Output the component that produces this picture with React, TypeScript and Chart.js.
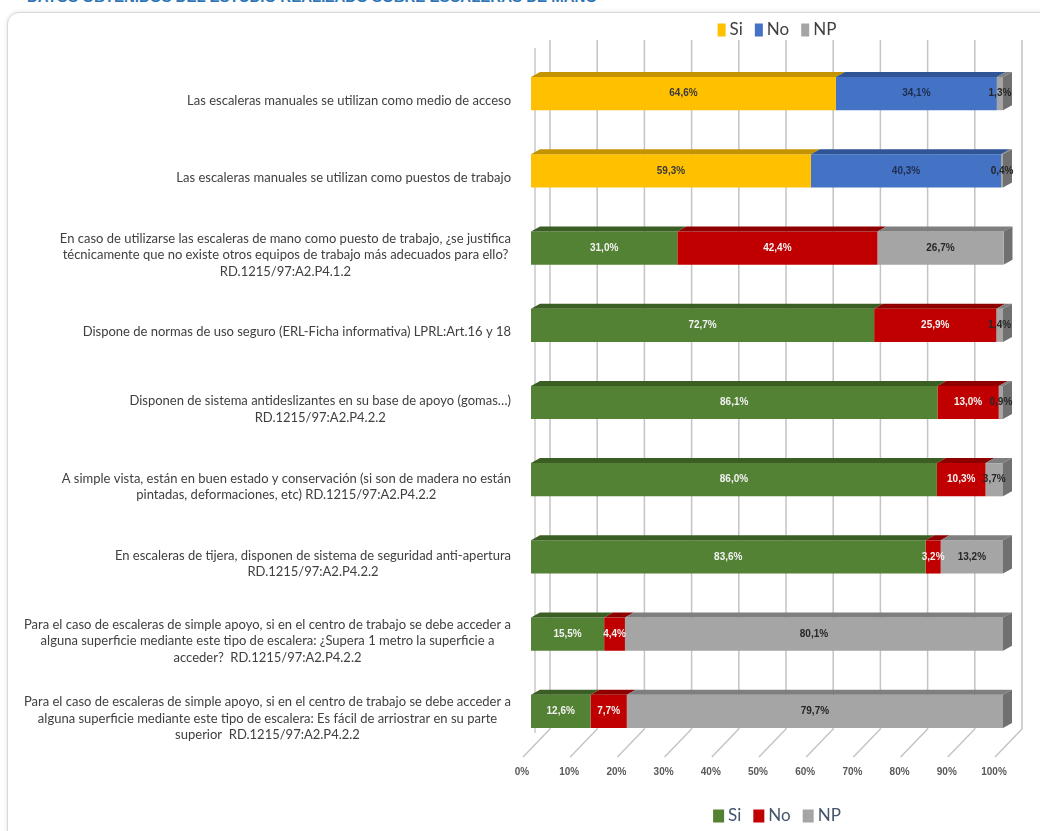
import React, { useEffect, useRef } from "react";
import { Chart, registerables } from "chart.js";
Chart.register(...registerables);

const categories: string[][] = [
  ["Las escaleras manuales se utilizan como medio de acceso"],
  ["Las escaleras manuales se utilizan como puestos de trabajo"],
  [
    "En caso de utilizarse las escaleras de mano como puesto de trabajo, ¿se justifica",
    "técnicamente que no existe otros equipos de trabajo más adecuados para ello?",
    "RD.1215/97:A2.P4.1.2",
  ],
  ["Dispone de normas de uso seguro (ERL-Ficha informativa) LPRL:Art.16 y 18"],
  ["Disponen de sistema antideslizantes en su base de apoyo (gomas…)", "RD.1215/97:A2.P4.2.2"],
  [
    "A simple vista, están en buen estado y conservación (si son de madera no están",
    "pintadas, deformaciones, etc) RD.1215/97:A2.P4.2.2",
  ],
  ["En escaleras de tijera, disponen de sistema de seguridad anti-apertura", "RD.1215/97:A2.P4.2.2"],
  [
    "Para el caso de escaleras de simple apoyo, si en el centro de trabajo se debe acceder a",
    "alguna superficie mediante este tipo de escalera: ¿Supera 1 metro la superficie a",
    "acceder?  RD.1215/97:A2.P4.2.2",
  ],
  [
    "Para el caso de escaleras de simple apoyo, si en el centro de trabajo se debe acceder a",
    "alguna superficie mediante este tipo de escalera: Es fácil de arriostrar en su parte",
    "superior  RD.1215/97:A2.P4.2.2",
  ],
];

// Group A (first two questions): Si / No / NP
const siA = [64.6, 59.3, null, null, null, null, null, null, null];
const noA = [34.1, 40.3, null, null, null, null, null, null, null];
const npA = [1.3, 0.4, null, null, null, null, null, null, null];
// Group B (remaining questions): Si / No / NP
const siB = [null, null, 31.0, 72.7, 86.1, 86.0, 83.6, 15.5, 12.6];
const noB = [null, null, 42.4, 25.9, 13.0, 10.3, 3.2, 4.4, 7.7];
const npB = [null, null, 26.7, 1.4, 0.9, 3.7, 13.2, 80.1, 79.7];

const seriesNames = ["Si", "No", "NP", "Si", "No", "NP"];
const frontColors = ["#FFC000", "#4472C4", "#A5A5A5", "#548235", "#C00000", "#A5A5A5"];
const topColors = ["#C49300", "#2F5597", "#7F7F7F", "#3B5E25", "#8E0000", "#7F7F7F"];
const sideColor = "#707070";
const labelColors = ["#3a3a3a", "#1f2d4f", "#262626", "#f2f2f2", "#f2f2f2", "#262626"];

const DX = 9;
const DY = 5;

const gridPlugin = {
  id: "grid3d",
  beforeDatasetsDraw(chart: any) {
    const ctx = chart.ctx;
    const xs = chart.scales.x;
    const { top, bottom } = chart.chartArea;
    const gridTop = top - 15;
    const floorBack = bottom - 21;
    const floorFront = bottom + 7;
    ctx.save();
    ctx.strokeStyle = "#c4c4c4";
    ctx.lineWidth = 1.5;
    for (let v = 0; v <= 100; v += 10) {
      const x = xs.getPixelForValue(v);
      ctx.beginPath();
      ctx.moveTo(x + 19, gridTop);
      ctx.lineTo(x + 19, floorBack);
      ctx.lineTo(x - 8, floorFront);
      ctx.stroke();
    }
    // left wall edge
    const x0 = xs.getPixelForValue(0);
    ctx.strokeStyle = "#d6d6d6";
    ctx.lineWidth = 2;
    ctx.beginPath();
    ctx.moveTo(x0 + 4, gridTop + 8);
    ctx.lineTo(x0 + 4, floorBack + 4);
    ctx.stroke();
    ctx.restore();
  },
};

const facePlugin = {
  id: "faces3d",
  afterDatasetsDraw(chart: any) {
    const ctx = chart.ctx;
    const n = chart.data.labels.length;
    const lastIdx: number[] = new Array(n).fill(-1);
    chart.data.datasets.forEach((ds: any, di: number) => {
      ds.data.forEach((v: any, i: number) => {
        if (v !== null && v !== undefined) lastIdx[i] = di;
      });
    });
    ctx.save();
    chart.data.datasets.forEach((ds: any, di: number) => {
      const meta = chart.getDatasetMeta(di);
      meta.data.forEach((el: any, i: number) => {
        const v = ds.data[i];
        if (v === null || v === undefined) return;
        const p = el.getProps(["x", "y", "base", "height"], true);
        const x0 = Math.min(p.base, p.x);
        const x1 = Math.max(p.base, p.x);
        const t = p.y - p.height / 2;
        const b = p.y + p.height / 2;
        ctx.fillStyle = topColors[di];
        ctx.beginPath();
        ctx.moveTo(x0, t);
        ctx.lineTo(x1, t);
        ctx.lineTo(x1 + DX, t - DY);
        ctx.lineTo(x0 + DX, t - DY);
        ctx.closePath();
        ctx.fill();
        if (lastIdx[i] === di) {
          ctx.fillStyle = sideColor;
          ctx.beginPath();
          ctx.moveTo(x1, t);
          ctx.lineTo(x1 + DX, t - DY);
          ctx.lineTo(x1 + DX, b - DY);
          ctx.lineTo(x1, b);
          ctx.closePath();
          ctx.fill();
        }
      });
    });
    ctx.restore();
  },
};

const valueLabelPlugin = {
  id: "valueLabels",
  afterDatasetsDraw(chart: any) {
    const ctx = chart.ctx;
    ctx.save();
    ctx.font = "bold 10px 'Liberation Sans', Arial, sans-serif";
    ctx.textAlign = "center";
    ctx.textBaseline = "middle";
    chart.data.datasets.forEach((ds: any, di: number) => {
      const meta = chart.getDatasetMeta(di);
      meta.data.forEach((el: any, i: number) => {
        const v = ds.data[i];
        if (v === null || v === undefined) return;
        const p = el.getProps(["x", "y", "base"], true);
        const cx = (p.x + p.base) / 2;
        ctx.fillStyle = labelColors[di];
        ctx.fillText(v.toFixed(1).replace(".", ",") + "%", cx, p.y);
      });
    });
    ctx.restore();
  },
};

const categoryLabelPlugin = {
  id: "categoryLabels",
  afterDraw(chart: any) {
    const ctx = chart.ctx;
    const ys = chart.scales.y;
    const rightX = chart.chartArea.left - 20;
    const lh = 16.5;
    ctx.save();
    ctx.font = "13px Lato, 'Liberation Sans', sans-serif";
    ctx.fillStyle = "#404040";
    ctx.textAlign = "center";
    ctx.textBaseline = "middle";
    (chart.data.labels as string[][]).forEach((lines, i) => {
      const cy = ys.getPixelForValue(i) + 7;
      const maxW = Math.max(...lines.map((l) => ctx.measureText(l).width));
      const cx = rightX - maxW / 2;
      lines.forEach((l, j) => {
        ctx.fillText(l, cx, cy + (j - (lines.length - 1) / 2) * lh);
      });
    });
    ctx.restore();
  },
};

const legendPlugin = {
  id: "dualLegend",
  afterDraw(chart: any) {
    const ctx = chart.ctx;
    const { left, right, top, bottom } = chart.chartArea;
    const centerX = (left + right) / 2 + 10;
    const groups = [
      { idx: [0, 1, 2], y: top - 25, color: "#404040", boxW: 8 },
      { idx: [3, 4, 5], y: bottom + 66, color: "#44546a", boxW: 11 },
    ];
    ctx.save();
    ctx.font = "17px Lato, 'Liberation Sans', sans-serif";
    ctx.textBaseline = "middle";
    ctx.textAlign = "left";
    groups.forEach((g) => {
      const gap = 4;
      const spacing = 12;
      const widths = g.idx.map((di) => g.boxW + gap + ctx.measureText(chart.data.datasets[di].label).width);
      const total = widths.reduce((a, b) => a + b, 0) + spacing * (widths.length - 1);
      let x = centerX - total / 2;
      g.idx.forEach((di, k) => {
        ctx.fillStyle = frontColors[di];
        ctx.fillRect(x, g.y - 6.5, g.boxW, 13);
        ctx.fillStyle = g.color;
        ctx.fillText(chart.data.datasets[di].label, x + g.boxW + gap, g.y);
        x += widths[k] + spacing;
      });
    });
    ctx.restore();
  },
};

export default function App() {
  const ref = useRef<HTMLCanvasElement | null>(null);
  useEffect(() => {
    if (!ref.current) return;
    const dataArrays = [siA, noA, npA, siB, noB, npB];
    const chart = new Chart(ref.current, {
      type: "bar",
      data: {
        labels: categories as any,
        datasets: dataArrays.map((d, i) => ({
          label: seriesNames[i],
          data: d as any,
          backgroundColor: frontColors[i],
          borderWidth: 0,
          categoryPercentage: 1,
          barPercentage: 0.43,
        })),
      },
      options: {
        indexAxis: "y",
        responsive: false,
        animation: false,
        layout: { padding: { left: 531, right: 37, top: 55, bottom: 37 } },
        plugins: { legend: { display: false }, tooltip: { enabled: false } },
        scales: {
          x: {
            stacked: true,
            min: 0,
            max: 100,
            grid: { display: false, drawTicks: false },
            border: { display: false },
            ticks: {
              stepSize: 10,
              callback: (v: any) => v + "%",
              font: { family: "'Liberation Sans', Arial, sans-serif", size: 10, weight: "bold" },
              color: "#595959",
              labelOffset: -9,
              padding: 16,
              maxRotation: 0,
              autoSkip: false,
            },
          },
          y: {
            stacked: true,
            display: false,
          },
        },
      },
      plugins: [gridPlugin, facePlugin, valueLabelPlugin, categoryLabelPlugin, legendPlugin],
    });
    return () => chart.destroy();
  }, []);

  return (
    <div style={{ position: "absolute", left: 0, top: 0, width: 1040, height: 831, overflow: "hidden", background: "#fff" }}>
      <div
        style={{
          position: "absolute",
          top: -11,
          left: 27,
          font: "bold 15px 'Liberation Sans', Arial, sans-serif",
          lineHeight: "15px",
          color: "#2E75B6",
          whiteSpace: "nowrap",
        }}
      >
        DATOS OBTENIDOS DEL ESTUDIO REALIZADO SOBRE ESCALERAS DE MANO
      </div>
      <div
        style={{
          position: "absolute",
          left: 7,
          top: 12,
          width: 1060,
          height: 850,
          border: "1px solid #d9d9d9",
          borderRadius: 12,
          boxShadow: "0 0 4px rgba(0,0,0,0.12)",
          background: "#fff",
        }}
      />
      <canvas
        ref={ref}
        width={1040}
        height={831}
        style={{ position: "absolute", left: 0, top: 0, width: 1040, height: 831 }}
      />
    </div>
  );
}
